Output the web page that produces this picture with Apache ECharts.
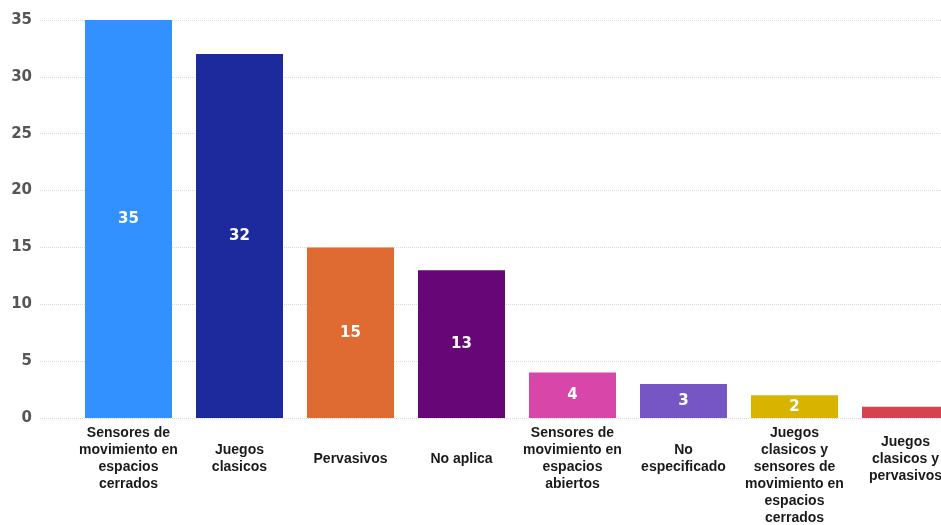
<!DOCTYPE html>
<html>
<head>
<meta charset="utf-8">
<script src="https://cdn.jsdelivr.net/npm/echarts@6/dist/echarts.min.js"></script>
<style>
  html, body { margin: 0; padding: 0; background: #fff; overflow: hidden; }
  #chart { width: 961px; height: 525px; }
</style>
</head>
<body>
<div id="chart"></div>
<script>
const categories = [
  "Sensores de\nmovimiento en\nespacios\ncerrados",
  "Juegos\nclasicos",
  "Pervasivos",
  "No aplica",
  "Sensores de\nmovimiento en\nespacios\nabiertos",
  "No\nespecificado",
  "Juegos\nclasicos y\nsensores de\nmovimiento en\nespacios\ncerrados",
  "Juegos\nclasicos y\npervasivos",
];
const counts = [35, 32, 15, 13, 4, 3, 2, 1];
const barColors = [
  "#3390ff", "#1c2a9e", "#e06b32", "#660677",
  "#d946a9", "#7655c4", "#d8b400", "#d3444e",
];
const yTicks = { min: 0, max: 35, interval: 5 };

// labels are centred on a 4-line box; taller ones hang from the top
const LINE = 17;
const labelItem = (name) => {
  const lines = name.split("\n").length;
  const shift = Math.max(0, ((4 - lines) * LINE) / 2);
  return { value: name, textStyle: { verticalAlign: "top", padding: [shift, 0, 0, 0] } };
};

const chart = echarts.init(document.getElementById("chart"), null, { renderer: "canvas" });

chart.setOption({
  animation: false,
  grid: [
    { left: 40, right: 0, top: 20, bottom: 107, outerBoundsMode: "none", containLabel: false },
    { left: 73, right: 0, top: 20, bottom: 107, outerBoundsMode: "none", containLabel: false },
  ],
  xAxis: [
    { type: "value", gridIndex: 0, show: false, min: 0, max: 1 },
    {
      type: "category",
      gridIndex: 1,
      data: categories.map(labelItem),
      axisLine: { show: false },
      axisTick: { show: false },
      axisLabel: {
        interval: 0,
        margin: 7,
        verticalAlign: "top",
        color: "#1a1a1a",
        fontFamily: "Liberation Sans",
        fontWeight: "bold",
        fontSize: 14,
        lineHeight: LINE,
      },
    },
  ],
  yAxis: [
    {
      type: "value",
      gridIndex: 0,
      ...yTicks,
      axisLine: { show: false },
      axisTick: { show: false },
      axisLabel: {
        margin: 8,
        color: "#555555",
        fontFamily: "DejaVu Sans",
        fontWeight: "bold",
        fontSize: 15,
      },
      splitLine: { lineStyle: { color: "#d9d9d9", type: "dotted", width: 1 } },
    },
    {
      type: "value",
      gridIndex: 1,
      ...yTicks,
      show: false,
      splitLine: { show: false },
    },
  ],
  series: [
    {
      type: "bar",
      xAxisIndex: 1,
      yAxisIndex: 1,
      barWidth: 87,
      label: {
        show: true,
        position: "inside",
        color: "#ffffff",
        fontFamily: "DejaVu Sans",
        fontWeight: "bold",
        fontSize: 15,
      },
      data: counts.map((value, index) => ({
        value,
        itemStyle: { color: barColors[index] },
        label: { show: value > 1 },
      })),
    },
  ],
});
</script>
</body>
</html>
